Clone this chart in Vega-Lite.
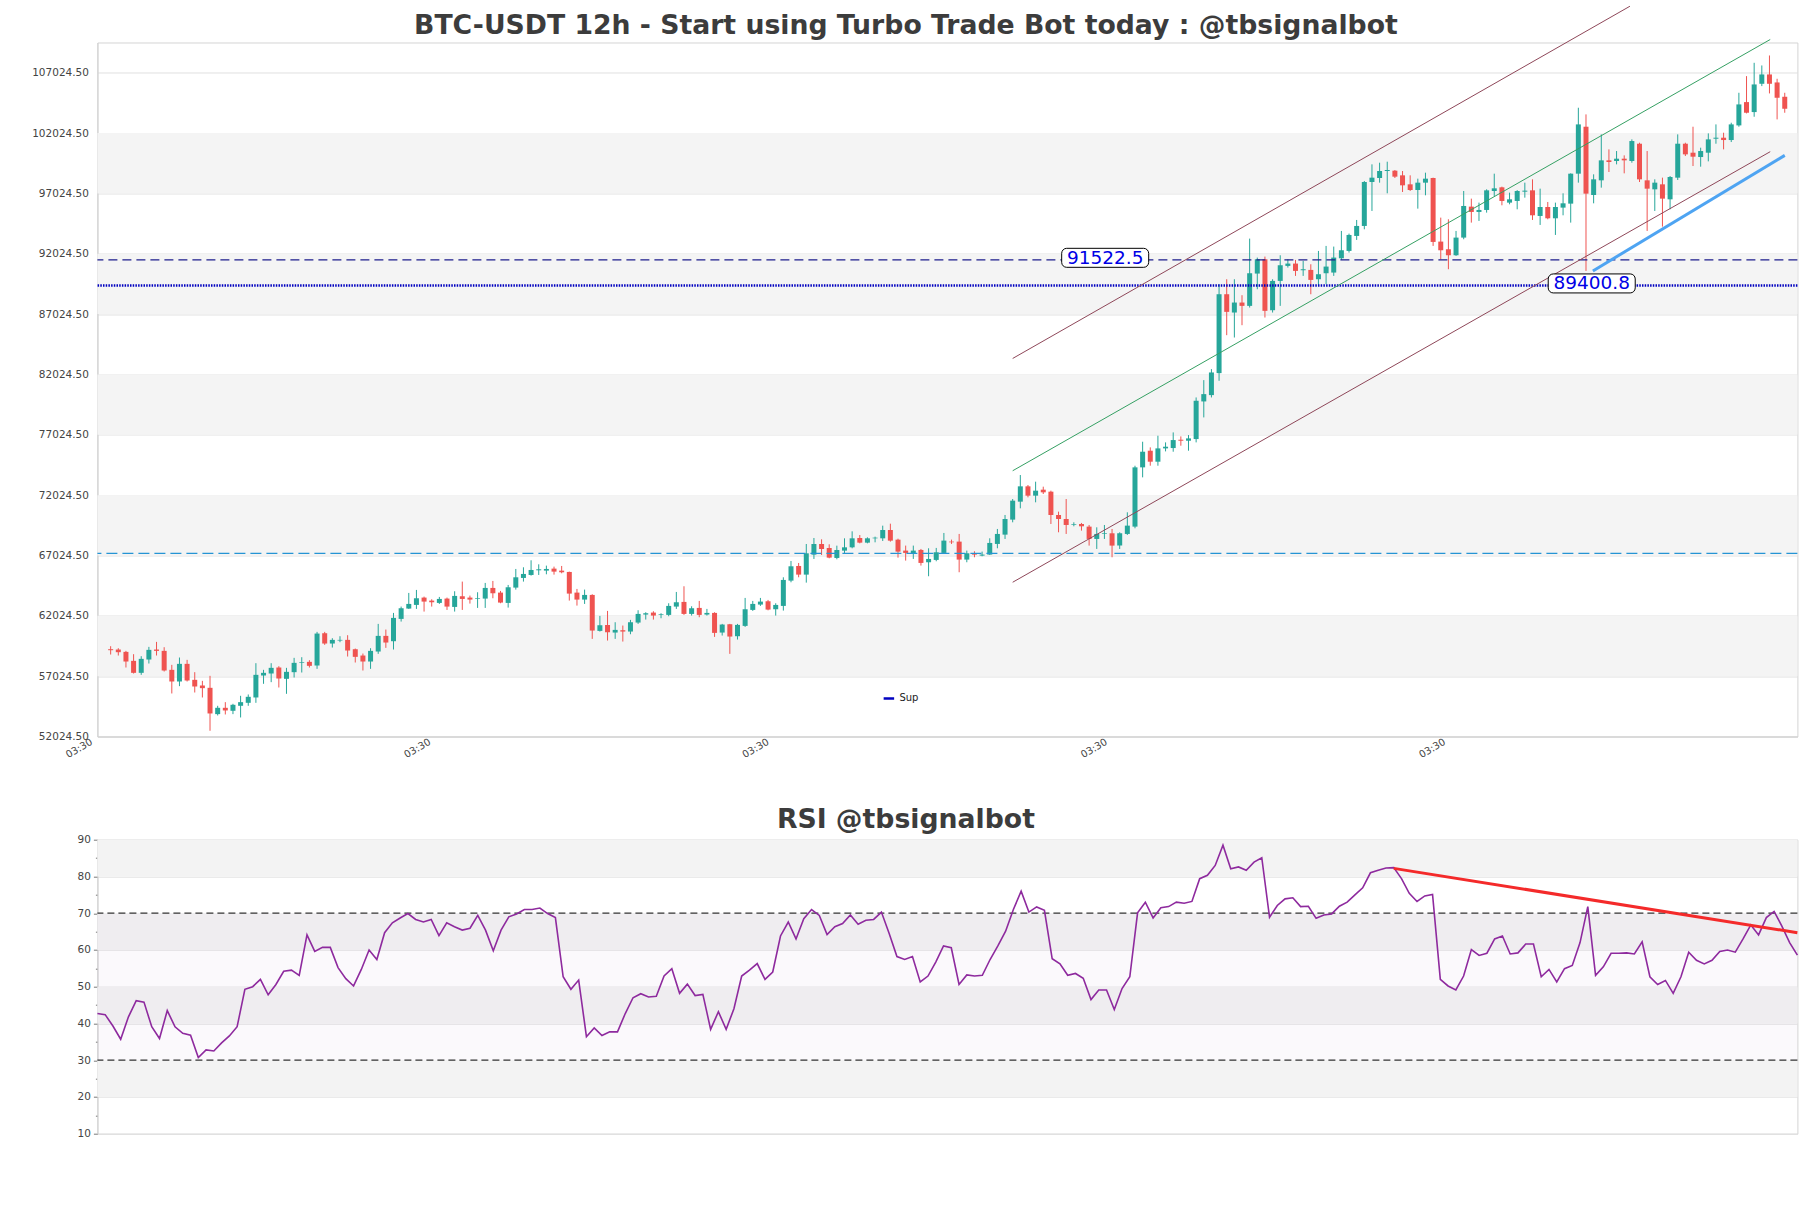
{
"$schema":"https://vega.github.io/schema/vega-lite/v6.json",
"background":"white",
"padding":{"left":30.4,"top":3.5,"right":10,"bottom":10},
"spacing":45.2,
"config":{
 "font":"DejaVu Sans",
 "view":{"stroke":"#d4d4d4","strokeWidth":1},
 "axis":{"labelFont":"DejaVu Sans","labelColor":"#444444","labelFontSize":10.5,"domainColor":"#d0d0d0","tickColor":"#777777","gridColor":"#e0e0e0","labelOverlap":false},
 "title":{"font":"DejaVu Sans","fontSize":26.7,"fontWeight":"bold","color":"#3c3c3c","anchor":"middle"}
},
"resolve":{"scale":{"color":"independent"},"legend":{"color":"independent"}},
"datasets":{
"candles":[
{"i":0,"o":59258,"h":59506,"l":58817,"c":59175},
{"i":1,"o":59231,"h":59341,"l":58734,"c":59010},
{"i":2,"o":59037,"h":59120,"l":57741,"c":58237},
{"i":3,"o":58292,"h":58844,"l":57244,"c":57299},
{"i":4,"o":57299,"h":58679,"l":57134,"c":58458},
{"i":5,"o":58403,"h":59451,"l":58072,"c":59203},
{"i":6,"o":59231,"h":59865,"l":58734,"c":59120},
{"i":7,"o":59120,"h":59424,"l":57410,"c":57492},
{"i":8,"o":57548,"h":57961,"l":55589,"c":56582},
{"i":9,"o":56582,"h":58568,"l":56196,"c":58044},
{"i":10,"o":58044,"h":58375,"l":56582,"c":56665},
{"i":11,"o":56720,"h":57354,"l":55671,"c":56168},
{"i":12,"o":56251,"h":56637,"l":55258,"c":56030},
{"i":13,"o":56058,"h":57051,"l":52499,"c":53933},
{"i":14,"o":53878,"h":54568,"l":53768,"c":54402},
{"i":15,"o":54402,"h":54871,"l":53850,"c":54182},
{"i":16,"o":54154,"h":54733,"l":53878,"c":54651},
{"i":17,"o":54568,"h":55396,"l":53602,"c":54871},
{"i":18,"o":54816,"h":55506,"l":54568,"c":55313},
{"i":19,"o":55258,"h":58099,"l":54816,"c":57134},
{"i":20,"o":57078,"h":57548,"l":56389,"c":57299},
{"i":21,"o":57244,"h":58099,"l":56527,"c":57713},
{"i":22,"o":57741,"h":57851,"l":56085,"c":56830},
{"i":23,"o":56803,"h":57713,"l":55561,"c":57382},
{"i":24,"o":57354,"h":58541,"l":56913,"c":58127},
{"i":25,"o":58127,"h":58596,"l":57327,"c":58182},
{"i":26,"o":58210,"h":58348,"l":57741,"c":57879},
{"i":27,"o":57906,"h":60693,"l":57630,"c":60555},
{"i":28,"o":60582,"h":60693,"l":59617,"c":59727},
{"i":29,"o":59727,"h":60169,"l":59396,"c":60031},
{"i":30,"o":59975,"h":60334,"l":59837,"c":60031},
{"i":31,"o":60031,"h":60417,"l":58651,"c":59148},
{"i":32,"o":59258,"h":59313,"l":58155,"c":58624},
{"i":33,"o":58734,"h":58899,"l":57492,"c":58237},
{"i":34,"o":58237,"h":59341,"l":57630,"c":59120},
{"i":35,"o":59065,"h":61355,"l":58872,"c":60362},
{"i":36,"o":60362,"h":60886,"l":59369,"c":59810},
{"i":37,"o":59920,"h":62265,"l":59231,"c":61852},
{"i":38,"o":61769,"h":62790,"l":61548,"c":62652},
{"i":39,"o":62624,"h":63921,"l":62596,"c":63010},
{"i":40,"o":62928,"h":64169,"l":62596,"c":63479},
{"i":41,"o":63535,"h":63617,"l":62376,"c":63203},
{"i":42,"o":63286,"h":63397,"l":62790,"c":63148},
{"i":43,"o":63093,"h":63590,"l":63010,"c":63424},
{"i":44,"o":63452,"h":63535,"l":62514,"c":62790},
{"i":45,"o":62762,"h":64059,"l":62376,"c":63673},
{"i":46,"o":63645,"h":64859,"l":62514,"c":63424},
{"i":47,"o":63535,"h":63700,"l":63038,"c":63369},
{"i":48,"o":63424,"h":63976,"l":62679,"c":63479},
{"i":49,"o":63452,"h":64749,"l":62679,"c":64335},
{"i":50,"o":64335,"h":64914,"l":63479,"c":63893},
{"i":51,"o":63948,"h":64086,"l":63066,"c":63121},
{"i":52,"o":63093,"h":64583,"l":62707,"c":64390},
{"i":53,"o":64362,"h":65907,"l":64197,"c":65217},
{"i":54,"o":65162,"h":66045,"l":64859,"c":65493},
{"i":55,"o":65410,"h":66624,"l":65355,"c":65824},
{"i":56,"o":65797,"h":66293,"l":65410,"c":65880},
{"i":57,"o":65769,"h":66183,"l":65466,"c":65907},
{"i":58,"o":65935,"h":66100,"l":65438,"c":65686},
{"i":59,"o":65769,"h":66155,"l":65548,"c":65631},
{"i":60,"o":65659,"h":65686,"l":63286,"c":63865},
{"i":61,"o":63948,"h":64252,"l":62872,"c":63369},
{"i":62,"o":63369,"h":64197,"l":63010,"c":63755},
{"i":63,"o":63755,"h":63810,"l":60113,"c":60803},
{"i":64,"o":60775,"h":62017,"l":60720,"c":61244},
{"i":65,"o":61272,"h":62431,"l":59975,"c":60665},
{"i":66,"o":60637,"h":61493,"l":60113,"c":60858},
{"i":67,"o":60831,"h":61217,"l":59892,"c":60720},
{"i":68,"o":60720,"h":61686,"l":60499,"c":61493},
{"i":69,"o":61465,"h":62486,"l":61355,"c":62182},
{"i":70,"o":62127,"h":62320,"l":61713,"c":62238},
{"i":71,"o":62293,"h":62403,"l":61713,"c":62044},
{"i":72,"o":62100,"h":62238,"l":61824,"c":62155},
{"i":73,"o":62100,"h":63065,"l":61989,"c":62845},
{"i":74,"o":62789,"h":64003,"l":62596,"c":63148},
{"i":75,"o":63176,"h":64472,"l":62100,"c":62182},
{"i":76,"o":62182,"h":62817,"l":62044,"c":62651},
{"i":77,"o":62679,"h":63258,"l":61907,"c":62100},
{"i":78,"o":62127,"h":62596,"l":62044,"c":62265},
{"i":79,"o":62265,"h":62320,"l":60279,"c":60610},
{"i":80,"o":60637,"h":61355,"l":60389,"c":61300},
{"i":81,"o":61327,"h":61355,"l":58872,"c":60306},
{"i":82,"o":60334,"h":61355,"l":60058,"c":61272},
{"i":83,"o":61189,"h":63507,"l":61106,"c":62569},
{"i":84,"o":62514,"h":63258,"l":62431,"c":63010},
{"i":85,"o":62955,"h":63507,"l":62845,"c":63203},
{"i":86,"o":63231,"h":63341,"l":62480,"c":62541},
{"i":87,"o":62569,"h":63065,"l":62044,"c":62927},
{"i":88,"o":62845,"h":65217,"l":62458,"c":64997},
{"i":89,"o":64941,"h":66569,"l":64803,"c":66128},
{"i":90,"o":66155,"h":66404,"l":65217,"c":65438},
{"i":91,"o":65438,"h":67976,"l":64776,"c":67204},
{"i":92,"o":67093,"h":68473,"l":66735,"c":67976},
{"i":93,"o":67976,"h":68363,"l":67066,"c":67562},
{"i":94,"o":67645,"h":67949,"l":66790,"c":66845},
{"i":95,"o":66818,"h":67838,"l":66707,"c":67480},
{"i":96,"o":67425,"h":68445,"l":67231,"c":67700},
{"i":97,"o":67700,"h":69025,"l":67618,"c":68445},
{"i":98,"o":68473,"h":68721,"l":68030,"c":68087},
{"i":99,"o":68087,"h":68528,"l":68032,"c":68445},
{"i":100,"o":68445,"h":68583,"l":68114,"c":68501},
{"i":101,"o":68445,"h":69494,"l":68225,"c":69135},
{"i":102,"o":69135,"h":69659,"l":68169,"c":68252},
{"i":103,"o":68335,"h":68418,"l":66845,"c":67342},
{"i":104,"o":67428,"h":67842,"l":66600,"c":67235},
{"i":105,"o":67207,"h":67842,"l":66738,"c":67428},
{"i":106,"o":67483,"h":67566,"l":66186,"c":66407},
{"i":107,"o":66462,"h":67621,"l":65304,"c":66738},
{"i":108,"o":66656,"h":67649,"l":66545,"c":67290},
{"i":109,"o":67235,"h":68890,"l":67207,"c":68256},
{"i":110,"o":68173,"h":68339,"l":67980,"c":68118},
{"i":111,"o":68173,"h":68808,"l":65635,"c":66683},
{"i":112,"o":66683,"h":67428,"l":66462,"c":67207},
{"i":113,"o":67207,"h":67373,"l":66876,"c":67097},
{"i":114,"o":67014,"h":67345,"l":66959,"c":67097},
{"i":115,"o":67097,"h":68449,"l":67069,"c":68063},
{"i":116,"o":67980,"h":69221,"l":67621,"c":68808},
{"i":117,"o":68752,"h":70380,"l":68394,"c":70049},
{"i":118,"o":69994,"h":71704,"l":69773,"c":71567},
{"i":119,"o":71484,"h":73691,"l":70932,"c":72753},
{"i":120,"o":72753,"h":72863,"l":71842,"c":71980},
{"i":121,"o":71980,"h":73139,"l":71429,"c":72394},
{"i":122,"o":72477,"h":72725,"l":72118,"c":72256},
{"i":123,"o":72311,"h":72394,"l":69635,"c":70380},
{"i":124,"o":70380,"h":70656,"l":68945,"c":70049},
{"i":125,"o":70049,"h":71704,"l":68808,"c":69552},
{"i":126,"o":69552,"h":69773,"l":69442,"c":69608},
{"i":127,"o":69635,"h":69718,"l":69083,"c":69442},
{"i":128,"o":69415,"h":69552,"l":67842,"c":68394},
{"i":129,"o":68394,"h":69359,"l":67566,"c":68808},
{"i":130,"o":68808,"h":69552,"l":68394,"c":68863},
{"i":131,"o":68863,"h":69221,"l":66876,"c":67842},
{"i":132,"o":67842,"h":68945,"l":67566,"c":68863},
{"i":133,"o":68808,"h":70601,"l":68725,"c":69497},
{"i":134,"o":69415,"h":74460,"l":69277,"c":74326},
{"i":135,"o":74326,"h":76450,"l":73498,"c":75622},
{"i":136,"o":75705,"h":75981,"l":74463,"c":74795},
{"i":137,"o":74795,"h":76947,"l":74463,"c":75898},
{"i":138,"o":75898,"h":76395,"l":75650,"c":76036},
{"i":139,"o":75926,"h":77222,"l":75622,"c":76588},
{"i":140,"o":76616,"h":76891,"l":76119,"c":76533},
{"i":141,"o":76533,"h":77002,"l":75705,"c":76726},
{"i":142,"o":76671,"h":80119,"l":76395,"c":79844},
{"i":143,"o":79788,"h":81554,"l":78464,"c":80395},
{"i":144,"o":80313,"h":82465,"l":80119,"c":82189},
{"i":145,"o":82134,"h":89500,"l":81499,"c":88672},
{"i":146,"o":88672,"h":89914,"l":85279,"c":87210},
{"i":147,"o":87155,"h":89914,"l":85086,"c":87983},
{"i":148,"o":87983,"h":88590,"l":86106,"c":87707},
{"i":149,"o":87707,"h":93280,"l":87569,"c":90411},
{"i":150,"o":90383,"h":91707,"l":89086,"c":91569},
{"i":151,"o":91569,"h":91790,"l":86741,"c":87293},
{"i":152,"o":87348,"h":89914,"l":87155,"c":89776},
{"i":153,"o":89776,"h":91900,"l":87707,"c":91073},
{"i":154,"o":91017,"h":91569,"l":90880,"c":91211},
{"i":155,"o":91211,"h":91514,"l":90190,"c":90604},
{"i":156,"o":90659,"h":91431,"l":90190,"c":90742},
{"i":157,"o":90686,"h":91155,"l":88672,"c":89859},
{"i":158,"o":89914,"h":92259,"l":89362,"c":90328},
{"i":159,"o":90412,"h":92674,"l":89501,"c":90963},
{"i":160,"o":90467,"h":92619,"l":90191,"c":91708},
{"i":161,"o":91653,"h":93915,"l":91515,"c":92315},
{"i":162,"o":92260,"h":93695,"l":92122,"c":93584},
{"i":163,"o":93502,"h":94826,"l":93171,"c":94329},
{"i":164,"o":94329,"h":98054,"l":94053,"c":97971},
{"i":165,"o":97971,"h":99433,"l":95571,"c":98330},
{"i":166,"o":98302,"h":99571,"l":97916,"c":98882},
{"i":167,"o":98882,"h":99654,"l":97033,"c":98964},
{"i":168,"o":98909,"h":98964,"l":98302,"c":98413},
{"i":169,"o":98523,"h":98882,"l":97143,"c":97695},
{"i":170,"o":97778,"h":98523,"l":97226,"c":97309},
{"i":171,"o":97309,"h":98247,"l":95764,"c":97916},
{"i":172,"o":97916,"h":98744,"l":96868,"c":98247},
{"i":173,"o":98302,"h":98330,"l":92674,"c":93005},
{"i":174,"o":93033,"h":95019,"l":91570,"c":92315},
{"i":175,"o":92398,"h":94881,"l":90743,"c":91901},
{"i":176,"o":91901,"h":93915,"l":91846,"c":93364},
{"i":177,"o":93364,"h":97226,"l":93226,"c":95985},
{"i":178,"o":95930,"h":96592,"l":94605,"c":95488},
{"i":179,"o":95488,"h":96261,"l":94743,"c":95654},
{"i":180,"o":95654,"h":97364,"l":95433,"c":97281},
{"i":181,"o":97226,"h":98661,"l":96812,"c":97447},
{"i":182,"o":97530,"h":97585,"l":96040,"c":96399},
{"i":183,"o":96261,"h":97088,"l":96123,"c":96536},
{"i":184,"o":96399,"h":97300,"l":95709,"c":97226},
{"i":185,"o":97171,"h":97916,"l":96674,"c":97254},
{"i":186,"o":97281,"h":98192,"l":94826,"c":95212},
{"i":187,"o":95157,"h":97419,"l":94412,"c":95902},
{"i":188,"o":95902,"h":96316,"l":94881,"c":94964},
{"i":189,"o":94964,"h":96261,"l":93584,"c":95902},
{"i":190,"o":95847,"h":97033,"l":95212,"c":96205},
{"i":191,"o":96178,"h":98689,"l":94605,"c":98661},
{"i":192,"o":98661,"h":104124,"l":97916,"c":102744},
{"i":193,"o":102551,"h":103572,"l":90605,"c":97006},
{"i":194,"o":96895,"h":98606,"l":96205,"c":98192},
{"i":195,"o":98109,"h":101917,"l":97502,"c":99765},
{"i":196,"o":99765,"h":100675,"l":98799,"c":99627},
{"i":197,"o":99709,"h":100537,"l":99433,"c":99902},
{"i":198,"o":99902,"h":100178,"l":98689,"c":99765},
{"i":199,"o":99709,"h":101503,"l":99571,"c":101365},
{"i":200,"o":101144,"h":101227,"l":97971,"c":98192},
{"i":201,"o":98109,"h":100537,"l":93915,"c":97419},
{"i":202,"o":97364,"h":98192,"l":95571,"c":97916},
{"i":203,"o":97778,"h":98330,"l":94274,"c":96592},
{"i":204,"o":96536,"h":98468,"l":95709,"c":98385},
{"i":205,"o":98330,"h":101917,"l":98137,"c":101144},
{"i":206,"o":101144,"h":101227,"l":100123,"c":100261},
{"i":207,"o":100399,"h":102551,"l":99295,"c":100068},
{"i":208,"o":100040,"h":100813,"l":99240,"c":100537},
{"i":209,"o":100399,"h":101999,"l":99682,"c":101503},
{"i":210,"o":101558,"h":102744,"l":101144,"c":101641},
{"i":211,"o":101641,"h":102054,"l":100675,"c":101448},
{"i":212,"o":101448,"h":102882,"l":101282,"c":102744},
{"i":213,"o":102661,"h":105365,"l":102551,"c":104400},
{"i":214,"o":104593,"h":106745,"l":103655,"c":103710},
{"i":215,"o":103765,"h":107848,"l":103379,"c":106055},
{"i":216,"o":106110,"h":107628,"l":105917,"c":106883},
{"i":217,"o":106883,"h":108455,"l":105310,"c":106110},
{"i":218,"o":106221,"h":106524,"l":103158,"c":104951},
{"i":219,"o":105034,"h":105365,"l":103710,"c":104041}
],
"rsi":[
{"i":0,"r":42.7},{"i":1,"r":42.4},{"i":2,"r":39.3},{"i":3,"r":35.7},{"i":4,"r":41.8},{"i":5,"r":46.2},{"i":6,"r":45.8},{"i":7,"r":39.1},{"i":8,"r":35.9},{"i":9,"r":43.5},
{"i":10,"r":39.1},{"i":11,"r":37.3},{"i":12,"r":36.8},{"i":13,"r":30.7},{"i":14,"r":32.8},{"i":15,"r":32.5},{"i":16,"r":34.7},{"i":17,"r":36.6},{"i":18,"r":39.1},{"i":19,"r":49.3},
{"i":20,"r":50.0},{"i":21,"r":52.0},{"i":22,"r":47.8},{"i":23,"r":50.6},{"i":24,"r":54.2},{"i":25,"r":54.5},{"i":26,"r":53.1},{"i":27,"r":64.1},{"i":28,"r":59.6},{"i":29,"r":60.7},
{"i":30,"r":60.7},{"i":31,"r":55.2},{"i":32,"r":52.2},{"i":33,"r":50.2},{"i":34,"r":54.7},{"i":35,"r":60.0},{"i":36,"r":57.4},{"i":37,"r":64.7},{"i":38,"r":67.4},{"i":39,"r":68.7},
{"i":40,"r":69.9},{"i":41,"r":68.3},{"i":42,"r":67.6},{"i":43,"r":68.3},{"i":44,"r":63.9},{"i":45,"r":67.4},{"i":46,"r":66.3},{"i":47,"r":65.4},{"i":48,"r":65.9},{"i":49,"r":69.4},
{"i":50,"r":65.4},{"i":51,"r":59.8},{"i":52,"r":65.4},{"i":53,"r":69.0},{"i":54,"r":69.8},{"i":55,"r":71.0},{"i":56,"r":71.0},{"i":57,"r":71.4},{"i":58,"r":69.9},{"i":59,"r":68.8},
{"i":60,"r":52.7},{"i":61,"r":49.3},{"i":62,"r":51.8},{"i":63,"r":36.4},{"i":64,"r":38.8},{"i":65,"r":36.7},{"i":66,"r":37.7},{"i":67,"r":37.7},{"i":68,"r":42.7},{"i":69,"r":47.0},
{"i":70,"r":48.1},{"i":71,"r":47.2},{"i":72,"r":47.4},{"i":73,"r":52.9},{"i":74,"r":54.9},{"i":75,"r":48.2},{"i":76,"r":50.7},{"i":77,"r":47.6},{"i":78,"r":47.9},{"i":79,"r":38.4},
{"i":80,"r":43.2},{"i":81,"r":38.4},{"i":82,"r":44.0},{"i":83,"r":52.9},{"i":84,"r":54.5},{"i":85,"r":56.3},{"i":86,"r":52.0},{"i":87,"r":54.0},{"i":88,"r":63.8},{"i":89,"r":67.6},
{"i":90,"r":63.0},{"i":91,"r":68.5},{"i":92,"r":71.0},{"i":93,"r":69.4},{"i":94,"r":64.2},{"i":95,"r":66.3},{"i":96,"r":67.2},{"i":97,"r":69.5},{"i":98,"r":67.0},{"i":99,"r":68.1},
{"i":100,"r":68.3},{"i":101,"r":70.3},{"i":102,"r":64.5},{"i":103,"r":58.2},{"i":104,"r":57.4},{"i":105,"r":58.2},{"i":106,"r":51.3},{"i":107,"r":52.9},{"i":108,"r":56.7},{"i":109,"r":61.1},
{"i":110,"r":60.6},{"i":111,"r":50.6},{"i":112,"r":53.2},{"i":113,"r":52.9},{"i":114,"r":53.1},{"i":115,"r":57.4},{"i":116,"r":61.1},{"i":117,"r":65.1},{"i":118,"r":71.0},{"i":119,"r":76.0},
{"i":120,"r":70.3},{"i":121,"r":71.7},{"i":122,"r":70.8},{"i":123,"r":57.6},{"i":124,"r":56.2},{"i":125,"r":53.1},{"i":126,"r":53.6},{"i":127,"r":52.3},{"i":128,"r":46.5},{"i":129,"r":49.1},
{"i":130,"r":49.1},{"i":131,"r":43.8},{"i":132,"r":49.5},{"i":133,"r":52.7},{"i":134,"r":70.1},{"i":135,"r":73.0},{"i":136,"r":68.7},{"i":137,"r":71.5},{"i":138,"r":71.8},{"i":139,"r":73.0},
{"i":140,"r":72.7},{"i":141,"r":73.2},{"i":142,"r":79.4},{"i":143,"r":80.3},{"i":144,"r":83.0},{"i":145,"r":88.5},{"i":146,"r":82.1},{"i":147,"r":82.6},{"i":148,"r":81.7},{"i":149,"r":83.9},
{"i":150,"r":85.1},{"i":151,"r":68.9},{"i":152,"r":72.1},{"i":153,"r":73.9},{"i":154,"r":74.2},{"i":155,"r":71.8},{"i":156,"r":71.9},{"i":157,"r":68.6},{"i":158,"r":69.5},{"i":159,"r":69.8},
{"i":160,"r":71.9},{"i":161,"r":73.0},{"i":162,"r":75.0},{"i":163,"r":76.9},{"i":164,"r":81.0},{"i":165,"r":81.7},{"i":166,"r":82.3},{"i":167,"r":82.4},{"i":168,"r":79.4},{"i":169,"r":75.4},
{"i":170,"r":73.2},{"i":171,"r":74.7},{"i":172,"r":75.1},{"i":173,"r":52.0},{"i":174,"r":50.2},{"i":175,"r":49.1},{"i":176,"r":52.9},{"i":177,"r":60.1},{"i":178,"r":58.5},{"i":179,"r":59.1},
{"i":180,"r":63.0},{"i":181,"r":63.8},{"i":182,"r":58.9},{"i":183,"r":59.2},{"i":184,"r":61.6},{"i":185,"r":61.6},{"i":186,"r":52.7},{"i":187,"r":54.7},{"i":188,"r":51.3},{"i":189,"r":54.9},
{"i":190,"r":55.8},{"i":191,"r":62.0},{"i":192,"r":71.8},{"i":193,"r":53.1},{"i":194,"r":55.4},{"i":195,"r":59.1},{"i":196,"r":59.1},{"i":197,"r":59.2},{"i":198,"r":58.9},{"i":199,"r":62.2},
{"i":200,"r":52.7},{"i":201,"r":50.6},{"i":202,"r":51.7},{"i":203,"r":48.2},{"i":204,"r":52.7},{"i":205,"r":59.4},{"i":206,"r":57.2},{"i":207,"r":56.2},{"i":208,"r":57.2},{"i":209,"r":59.6},
{"i":210,"r":60.0},{"i":211,"r":59.4},{"i":212,"r":63.0},{"i":213,"r":66.8},{"i":214,"r":64.1},{"i":215,"r":68.8},{"i":216,"r":70.5},{"i":217,"r":66.5},{"i":218,"r":62.0},{"i":219,"r":58.6}
]
},
"vconcat":[
{
 "width":1700,"height":694,
 "title":{"text":"BTC-USDT 12h - Start using Turbo Trade Bot today : @tbsignalbot","offset":-35.5,"dx":-41.5},
 "layer":[
  {"data":{"values":[{"lo":57024.5,"hi":62024.5},{"lo":67024.5,"hi":72024.5},{"lo":77024.5,"hi":82024.5},{"lo":87024.5,"hi":92024.5},{"lo":97024.5,"hi":102024.5}]},
   "mark":{"type":"rect","color":"#f4f4f4"},
   "encoding":{
    "y":{"field":"lo","type":"quantitative","scale":{"domain":[52024.5,109530],"nice":false,"zero":false},
     "axis":{"title":null,"values":[52024.5,57024.5,62024.5,67024.5,72024.5,77024.5,82024.5,87024.5,92024.5,97024.5,102024.5,107024.5],"tickCount":30,"format":".2f","grid":true,"ticks":false,"labelPadding":9,"minExtent":62,"maxExtent":62}},
    "y2":{"field":"hi"}}},
  {"data":{"name":"candles"},
   "mark":{"type":"rule","strokeWidth":1},
   "encoding":{
    "x":{"field":"i","type":"quantitative","scale":{"domain":[-1.08,220.0],"nice":false,"zero":false},
     "axis":{"title":null,"values":[-1.07,43.18,87.43,131.68,175.93],"tickCount":50,"labelOffset":-13.7,"labelExpr":"'03:30'","labelAngle":-30,"labelAlign":"right","labelBaseline":"top","ticks":false,"grid":false,"labelPadding":0,"labelFontSize":10}},
    "y":{"field":"l","type":"quantitative","title":null},
    "y2":{"field":"h"},
    "color":{"condition":{"test":"datum.c >= datum.o","value":"#26a69a"},"value":"#ef5350"}}},
  {"data":{"name":"candles"},
   "mark":{"type":"bar","width":5},
   "encoding":{
    "x":{"field":"i","type":"quantitative","title":null},
    "y":{"field":"o","type":"quantitative","title":null},
    "y2":{"field":"c"},
    "color":{"condition":{"test":"datum.c >= datum.o","value":"#26a69a"},"value":"#ef5350"}}},
  {"data":{"values":[{"p":67200}]},
   "mark":{"type":"rule","color":"#2594d4","strokeDash":[11,5],"strokeWidth":1.3},
   "encoding":{"y":{"field":"p","type":"quantitative","title":null}}},
  {"data":{"values":[{"p":91522.5}]},
   "mark":{"type":"rule","color":"#1c1c8c","strokeDash":[9,5],"strokeWidth":1.3},
   "encoding":{"y":{"field":"p","type":"quantitative","title":null}}},
  {"data":{"values":[{"p":89400.8,"name":"Sup"}]},
   "mark":{"type":"rule","strokeDash":[1.5,1.2],"strokeWidth":2.6},
   "encoding":{"y":{"field":"p","type":"quantitative","title":null},
    "color":{"field":"name","type":"nominal","scale":{"range":["#0000c0"]},
     "legend":{"title":null,"orient":"none","legendX":785,"legendY":649.5,"symbolType":"stroke","symbolStrokeWidth":2.5,"symbolDash":[1,0],"symbolSize":110,"labelFontSize":10,"labelColor":"#222222","labelFont":"DejaVu Sans"}}}},
  {"data":{"values":[{"i":118.0,"p":83349},{"i":198.75,"p":112536}]},
   "mark":{"type":"line","color":"#8e4658","strokeWidth":1},
   "encoding":{"x":{"field":"i","type":"quantitative","title":null},"y":{"field":"p","type":"quantitative","title":null}}},
  {"data":{"values":[{"i":118.0,"p":64806},{"i":217.1,"p":100484}]},
   "mark":{"type":"line","color":"#8e4658","strokeWidth":1},
   "encoding":{"x":{"field":"i","type":"quantitative","title":null},"y":{"field":"p","type":"quantitative","title":null}}},
  {"data":{"values":[{"i":118.0,"p":74044},{"i":217.1,"p":109780}]},
   "mark":{"type":"line","color":"#34a062","strokeWidth":1},
   "encoding":{"x":{"field":"i","type":"quantitative","title":null},"y":{"field":"p","type":"quantitative","title":null}}},
  {"data":{"values":[{"i":193.9,"p":90600},{"i":219.0,"p":100177}]},
   "mark":{"type":"line","color":"#4ea4f2","strokeWidth":3},
   "encoding":{"x":{"field":"i","type":"quantitative","title":null},"y":{"field":"p","type":"quantitative","title":null}}},
  {"data":{"values":[{"i":130.1,"p":91522.5,"t":"91522.5"},{"i":193.75,"p":89400.8,"t":"89400.8"}]},
   "layer":[
    {"mark":{"type":"rect","width":87,"height":19,"fill":"white","stroke":"black","strokeWidth":1,"cornerRadius":5,"yOffset":-2},
     "encoding":{"x":{"field":"i","type":"quantitative","title":null},"y":{"field":"p","type":"quantitative","title":null}}},
    {"mark":{"type":"text","font":"DejaVu Sans","fontSize":18.5,"color":"#0000e6","yOffset":-2},
     "encoding":{"x":{"field":"i","type":"quantitative","title":null},"y":{"field":"p","type":"quantitative","title":null},"text":{"field":"t"}}}
   ]}
 ]
},
{
 "width":1700,"height":294,
 "title":{"text":"RSI @tbsignalbot","offset":1,"dx":-41.5},
 "layer":[
  {"data":{"values":[{"lo":20,"hi":30},{"lo":40,"hi":50},{"lo":60,"hi":70},{"lo":80,"hi":90}]},
   "mark":{"type":"rect","color":"#f3f3f3"},
   "encoding":{
    "y":{"field":"lo","type":"quantitative","title":null,"scale":{"domain":[10,90],"nice":false,"zero":false}},
    "y2":{"field":"hi"}}},
  {"data":{"values":[{"lo":30,"hi":70}]},
   "mark":{"type":"rect","color":"#9a5cb0","opacity":0.04},
   "encoding":{"y":{"field":"lo","type":"quantitative","title":null},"y2":{"field":"hi"}}},
  {"data":{"values":[{"v":30},{"v":70}]},
   "mark":{"type":"rule","color":"#333333","strokeDash":[7,4],"strokeWidth":1.2},
   "encoding":{"y":{"field":"v","type":"quantitative","title":null}}},
  {"data":{"name":"rsi"},
   "mark":{"type":"line","color":"#8e2a9e","strokeWidth":1.6},
   "encoding":{
    "x":{"field":"i","type":"quantitative","scale":{"domain":[0,219],"nice":false,"zero":false},"axis":null},
    "y":{"field":"r","type":"quantitative","axis":{"title":null,"values":[10,15,20,25,30,35,40,45,50,55,60,65,70,75,80,85,90],"tickCount":40,"labelOverlap":false,"labelBound":false,"labelExpr":"datum.value % 10 === 0 ? datum.label : ''","tickSize":{"condition":{"test":"datum.value % 10 === 0","value":4},"value":2},"gridOpacity":{"condition":{"test":"datum.value % 10 === 0","value":1},"value":0},"grid":true,"labelPadding":3,"minExtent":62,"maxExtent":62}}}},
  {"data":{"values":[{"i":167.0,"r":82.2},{"i":219.0,"r":64.7}]},
   "mark":{"type":"line","color":"#f42a2a","strokeWidth":3},
   "encoding":{"x":{"field":"i","type":"quantitative"},"y":{"field":"r","type":"quantitative","title":null}}}
 ]
}
]
}
